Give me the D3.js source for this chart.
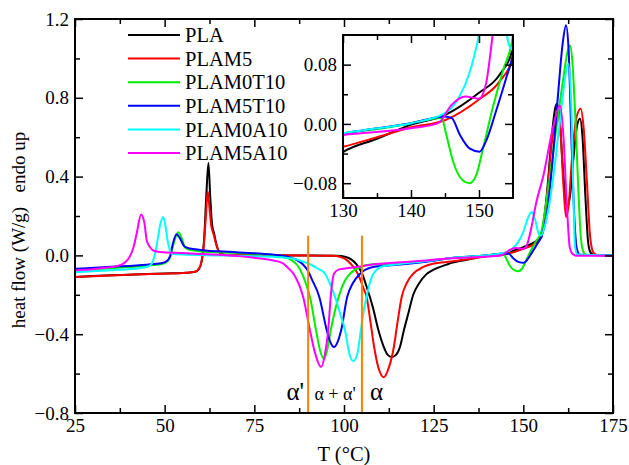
<!DOCTYPE html>
<html>
<head>
<meta charset="utf-8">
<script src="https://cdn.jsdelivr.net/npm/d3@7"></script>
<style>
  body { margin: 0; background: #fff; }
  text { font-family: "Liberation Serif", "Times New Roman", serif; }
</style>
</head>
<body>
<div class="canvas"></div>
<script>
// series: [T (°C), heat flow (W/g)]
const PLA = [[25,-0.11],[30,-0.105],[40,-0.098],[50,-0.092],[56,-0.088],[58.5,-0.083],[59.5,-0.07],[60.3,-0.03],[61,0.08],[61.6,0.3],[62.2,0.469],[62.7,0.3],[63.2,0.16],[63.8,0.11],[64.5,0.05],[65.5,0.01],[67,0.002],[75,0],[90,0],[98,-0.002],[100.5,-0.008],[102,-0.02],[103.5,-0.045],[105,-0.09],[106.5,-0.17],[108,-0.26],[109.6,-0.38],[111,-0.46],[112.2,-0.505],[113.3,-0.516],[114.5,-0.505],[115.6,-0.465],[116.7,-0.38],[118,-0.29],[119.3,-0.2],[121,-0.14],[123,-0.095],[125,-0.072],[128.6,-0.047],[130,-0.038],[135,-0.02],[140,-0.001],[145,0.012],[150,0.042],[153,0.066],[155,0.103],[156.5,0.3],[157.9,0.6],[158.8,0.74],[159.3,0.77],[160,0.72],[161,0.45],[162.2,0.245],[163,0.3],[164,0.5],[165,0.66],[165.8,0.694],[166.5,0.6],[167.3,0.3],[168,0.08],[168.6,0.02],[169.5,0.003],[175,0]];
const PLAM5 = [[25,-0.11],[40,-0.098],[56,-0.088],[58.5,-0.083],[59.5,-0.07],[60.3,-0.03],[61,0.07],[61.5,0.2],[62,0.326],[62.5,0.24],[63,0.15],[63.6,0.11],[64.3,0.06],[65.3,0.015],[67,0.002],[90,0],[97,-0.002],[99,-0.008],[100.5,-0.02],[102,-0.045],[103.3,-0.075],[104.5,-0.12],[105.5,-0.17],[106.3,-0.21],[107.4,-0.34],[108.4,-0.465],[109.6,-0.57],[111.1,-0.618],[112.5,-0.57],[113.9,-0.465],[115,-0.33],[116.1,-0.21],[117.5,-0.14],[119.3,-0.093],[122,-0.06],[124.8,-0.042],[130,-0.031],[135,-0.018],[140,-0.0045],[145,0.005],[150,0.033],[153,0.057],[155,0.091],[156.5,0.28],[158,0.58],[159.2,0.71],[159.8,0.728],[160.4,0.62],[161.2,0.35],[161.9,0.195],[162.6,0.25],[163.6,0.5],[164.8,0.7],[166,0.745],[166.8,0.65],[167.8,0.35],[168.6,0.1],[169.5,0.015],[170.5,0.002],[175,0]];
const PLAM0T10 = [[25,-0.076],[35,-0.065],[45,-0.052],[49,-0.045],[50.5,-0.035],[51.5,-0.01],[52.5,0.06],[53.8,0.118],[54.8,0.085],[55.7,0.04],[57,0.028],[60,0.02],[70,0.012],[80,0.002],[83,-0.008],[85.4,-0.025],[87,-0.05],[88.5,-0.1],[89.5,-0.15],[90.5,-0.21],[92.2,-0.38],[93.3,-0.48],[94.4,-0.525],[95.3,-0.48],[96.3,-0.38],[97.5,-0.28],[98.7,-0.2],[100.2,-0.13],[101.7,-0.093],[104.5,-0.059],[108,-0.045],[115,-0.04],[125,-0.025],[130,-0.013],[135,-0.007],[140,0.001],[144.5,0.008],[145.2,-0.015],[146.2,-0.051],[147.6,-0.076],[148.6,-0.08],[149.6,-0.069],[150.6,-0.033],[152,0.021],[153.5,0.071],[155,0.12],[157,0.35],[159,0.62],[161,0.88],[162.4,1.04],[163,1.066],[163.6,1.0],[164.5,0.7],[165.3,0.35],[166,0.1],[166.7,0.02],[167.5,0.003],[175,0]];
const PLAM5T10 = [[25,-0.068],[35,-0.058],[45,-0.047],[49,-0.04],[50.5,-0.03],[51.5,-0.005],[52.3,0.06],[53.3,0.107],[54.3,0.085],[55.5,0.045],[57,0.035],[60,0.028],[70,0.016],[80,0.004],[84,-0.005],[86.5,-0.02],[88.5,-0.045],[90,-0.08],[91,-0.12],[93.1,-0.21],[95.2,-0.38],[96.2,-0.44],[97.2,-0.465],[98.2,-0.44],[99.2,-0.38],[100.9,-0.21],[102.5,-0.14],[104.5,-0.093],[108.1,-0.059],[115,-0.048],[125,-0.027],[130,-0.013],[135,-0.006],[140,0.001],[145,0.01],[146,0.0077],[147.2,-0.015],[148.6,-0.033],[150.1,-0.0375],[151,-0.024],[152.5,0.017],[154,0.062],[155,0.094],[156.5,0.2],[158,0.45],[159.6,0.8],[161,1.08],[161.9,1.168],[162.6,1.05],[163.5,0.54],[164.2,0.2],[164.9,0.035],[165.8,0.003],[175,0]];
const PLAM0A10 = [[25,-0.085],[35,-0.075],[43,-0.065],[45.5,-0.055],[46.4,-0.042],[47.2,0],[48,0.076],[48.8,0.16],[49.6,0.195],[50.2,0.15],[50.8,0.076],[51.4,0.03],[52,0.008],[55,0.004],[65,0],[75,-0.004],[81,-0.008],[86,-0.017],[88,-0.028],[90.5,-0.045],[92.5,-0.065],[94.7,-0.093],[96,-0.14],[97.5,-0.21],[99,-0.3],[100.3,-0.38],[101.5,-0.5],[102.6,-0.536],[103.7,-0.5],[104.7,-0.38],[105.5,-0.28],[106.3,-0.21],[107.2,-0.14],[108.2,-0.093],[110.9,-0.055],[115,-0.045],[125,-0.025],[130,-0.0127],[135,-0.006],[140,0.001],[145,0.0145],[147,0.035],[148.5,0.066],[150,0.12],[151.3,0.19],[152.3,0.22],[153.3,0.18],[154.3,0.11],[154.9,0.1],[156,0.15],[158,0.35],[160,0.65],[161.5,0.88],[162.5,0.973],[163.3,0.8],[163.9,0.35],[164.4,0.05],[165,0.005],[175,0]];
const PLAM5A10 = [[25,-0.076],[30,-0.07],[34,-0.062],[37,-0.053],[39,-0.035],[40.3,-0.005],[41.3,0.04],[42.3,0.12],[43.4,0.208],[44.3,0.17],[45,0.076],[46,0.04],[46.8,0.025],[48.7,0.017],[55,0.012],[65,0.003],[75,-0.012],[80,-0.025],[83,-0.04],[84.5,-0.065],[85.9,-0.093],[87.5,-0.15],[88.6,-0.21],[90.5,-0.38],[92,-0.5],[93.6,-0.567],[94.7,-0.5],[95.6,-0.38],[96.3,-0.21],[97.2,-0.093],[98.5,-0.072],[99.8,-0.068],[105,-0.055],[109,-0.044],[120,-0.03],[130,-0.015],[140,-0.006],[144,0.001],[146,0.026],[148,0.037],[150,0.034],[151,0.053],[152,0.12],[153.5,0.26],[155.6,0.406],[158.4,0.66],[160.2,0.761],[161.2,0.6],[162,0.3],[163,0.035],[163.9,0.005],[165,-0.002],[175,-0.002]];

const seriesNames = ["PLA", "PLAM5", "PLAM0T10", "PLAM5T10", "PLAM0A10", "PLAM5A10"];
const seriesData = [PLA, PLAM5, PLAM0T10, PLAM5T10, PLAM0A10, PLAM5A10];
const seriesColors = ["#000000", "#ff0000", "#00ee00", "#0000ff", "#00ffff", "#ff00ff"];

const xTicks = [25, 50, 75, 100, 125, 150, 175];
const yTicks = [-0.8, -0.4, 0.0, 0.4, 0.8, 1.2];
const insetXTicks = [130, 140, 150];
const insetYTicks = [-0.08, 0.0, 0.08];
const phaseLines = [90, 105];

const width = 629;
const height = 465;

const svg = d3
  .select(".canvas")
  .append("svg")
  .attr("width", width)
  .attr("height", height);

// scales
const x = d3.scaleLinear().domain([25, 175]).range([75, 613]);
const y = d3.scaleLinear().domain([-0.8, 1.2]).range([413, 19]);
const xi = d3.scaleLinear().domain([130, 155]).range([343, 513]);
const yi = d3.scaleLinear().domain([-0.1, 0.12]).range([198, 35]);

const defs = svg.append("defs");
defs.append("clipPath").attr("id", "clipMain")
  .append("rect").attr("x", 75).attr("y", 19).attr("width", 538).attr("height", 394);
defs.append("clipPath").attr("id", "clipInset")
  .append("rect").attr("x", xi(130)).attr("y", yi(0.12)).attr("width", xi(155) - xi(130)).attr("height", yi(-0.1) - yi(0.12));

// axes helper: major + minor ticks, pointing inward
const drawAxes = (xs, ys, majX, minX, majY, minY, fmtX, fmtY, fontSize) => {
  const [x0, x1] = xs.range();
  const [y0, y1] = ys.range();
  const g = svg.append("g");
  const add = (axis, tr) => g.append("g").attr("transform", tr).call(axis)
    .call((s) => s.select(".domain").remove());

  add(d3.axisBottom(xs).tickValues(majX).tickSize(-8).tickSizeOuter(0).tickPadding(6).tickFormat(fmtX), `translate(0,${y0})`);
  add(d3.axisBottom(xs).tickValues(minX).tickSize(-5).tickFormat(""), `translate(0,${y0})`);
  add(d3.axisTop(xs).tickValues(majX).tickSize(-8).tickFormat(""), `translate(0,${y1})`);
  add(d3.axisTop(xs).tickValues(minX).tickSize(-5).tickFormat(""), `translate(0,${y1})`);
  add(d3.axisLeft(ys).tickValues(majY).tickSize(-8).tickSizeOuter(0).tickPadding(6).tickFormat(fmtY), `translate(${x0},0)`);
  add(d3.axisLeft(ys).tickValues(minY).tickSize(-5).tickFormat(""), `translate(${x0},0)`);
  add(d3.axisRight(ys).tickValues(majY).tickSize(-8).tickFormat(""), `translate(${x1},0)`);
  add(d3.axisRight(ys).tickValues(minY).tickSize(-5).tickFormat(""), `translate(${x1},0)`);

  g.selectAll("line").attr("stroke", "#000").attr("stroke-width", 1.5);
  g.selectAll("text").attr("font-size", fontSize).attr("fill", "#000")
    .style("font-family", "'Liberation Serif', serif");

  svg.append("rect")
    .attr("x", x0).attr("y", y1)
    .attr("width", x1 - x0).attr("height", y0 - y1)
    .attr("fill", "none").attr("stroke", "#000").attr("stroke-width", 2);
};

// main curves
const line = d3.line().x((d) => x(d[0])).y((d) => y(d[1])).curve(d3.curveMonotoneX);
svg.append("g").attr("clip-path", "url(#clipMain)")
  .selectAll("path")
  .data(seriesData)
  .enter()
  .append("path")
  .attr("fill", "none")
  .attr("stroke", (d, i) => seriesColors[i])
  .attr("stroke-width", 2)
  .attr("d", line);

// phase boundaries
svg.selectAll(".phase")
  .data(phaseLines)
  .enter()
  .append("line")
  .attr("class", "phase")
  .attr("x1", (d) => x(d)).attr("x2", (d) => x(d))
  .attr("y1", y(0.1)).attr("y2", y(-0.8))
  .attr("stroke", "#ff8000")
  .attr("stroke-width", 2);

svg.append("text").attr("x", x(90) - 4).attr("y", 400).attr("text-anchor", "end")
  .attr("font-size", 25).text("α'");
svg.append("text").attr("x", (x(90) + x(105)) / 2).attr("y", 400).attr("text-anchor", "middle")
  .attr("font-size", 18).text("α + α'");
svg.append("text").attr("x", x(105) + 8).attr("y", 400)
  .attr("font-size", 25).text("α");

drawAxes(x, y, xTicks, [37.5, 62.5, 87.5, 112.5, 137.5, 162.5], yTicks, [-0.6, -0.2, 0.2, 0.6, 1.0],
  d3.format("d"), d3.format(".1f"), 19);

// legend
const legend = svg.append("g");
seriesNames.forEach((name, i) => {
  const ly = 35 + i * 23.6;
  legend.append("line")
    .attr("x1", 128).attr("x2", 180).attr("y1", ly).attr("y2", ly)
    .attr("stroke", seriesColors[i]).attr("stroke-width", 2);
  legend.append("text")
    .attr("x", 185).attr("y", ly).attr("dy", "0.35em")
    .attr("font-size", 20.5).text(name);
});

// inset
svg.append("rect")
  .attr("x", xi(130)).attr("y", yi(0.12))
  .attr("width", xi(155) - xi(130)).attr("height", yi(-0.1) - yi(0.12))
  .attr("fill", "#fff");

const insetLine = d3.line().x((d) => xi(d[0])).y((d) => yi(d[1])).curve(d3.curveMonotoneX);
svg.append("g").attr("clip-path", "url(#clipInset)")
  .selectAll("path")
  .data(seriesData)
  .enter()
  .append("path")
  .attr("fill", "none")
  .attr("stroke", (d, i) => seriesColors[i])
  .attr("stroke-width", 2)
  .attr("d", insetLine);

drawAxes(xi, yi, insetXTicks, [135, 145], insetYTicks, [-0.04, 0.04],
  d3.format("d"), d3.format(".2f"), 19);

// axis titles
svg.append("text")
  .attr("x", x(100)).attr("y", 461)
  .attr("text-anchor", "middle")
  .attr("font-size", 20.5)
  .text("T (°C)");

svg.append("text")
  .attr("transform", "translate(25,230) rotate(-90)")
  .attr("text-anchor", "middle")
  .attr("font-size", 19)
  .text("heat flow (W/g)\u00a0\u00a0\u00a0endo up");
</script>
</body>
</html>
